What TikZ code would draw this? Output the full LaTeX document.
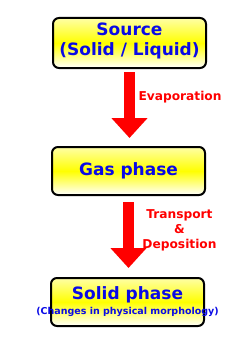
\documentclass[tikz,border=0pt]{standalone}
\usepackage{fontspec}
\setmainfont{DejaVu Sans}
\usetikzlibrary{arrows.meta}
\definecolor{txtblue}{RGB}{10,10,230}
\tikzset{
  stage/.style={draw=black, line width=2pt, rounded corners=6pt,
    top color=yellow!35, bottom color=white, middle color=yellow,
    minimum width=153pt, minimum height=50pt, align=center,
    text=txtblue, font=\fontsize{17}{20}\selectfont\bfseries},
  flow/.style={red, line width=11pt, -{Triangle[length=20pt,width=35pt]}},
  lbl/.style={text=red, align=center, font=\fontsize{12.2}{15}\selectfont\bfseries}
}

\begin{document}
\begin{tikzpicture}[x=1pt,y=-1pt]
  \useasboundingbox (0,0) rectangle (250,353);
  \node [stage] (src) at (129.5,43) {};
  \node [text=txtblue, align=center, font=\fontsize{17}{20}\selectfont\bfseries] (srcname) at (129.5,41) {Source\\(Solid / Liquid)};
  \node [stage, minimum height=48pt] (gas) at (128.5,171) {Gas phase};
  \node [stage, minimum height=48pt] (sol) at (127.5,302) {};
  \node [text=txtblue, font=\fontsize{17}{20}\selectfont\bfseries] (solname) at (127.5,295) {Solid phase};
  \node [text=txtblue, font=\fontsize{9.5}{11}\selectfont\bfseries] (solnote) at (127.5,312) {(Changes in physical morphology)};
  % arrows between stages
  \draw [flow, shorten <=3pt, shorten >=8pt] (src.south) to (src.south |- gas.north);
  \draw [flow, shorten <=6pt, shorten >=9pt] (gas.south) to (gas.south |- sol.north);
  \node [lbl, anchor=west] (evap) at (135,97) {Evaporation};
  \node [lbl] (trdep) at (179.5,230) {Transport\\\&\\Deposition};
\end{tikzpicture}
\end{document}
